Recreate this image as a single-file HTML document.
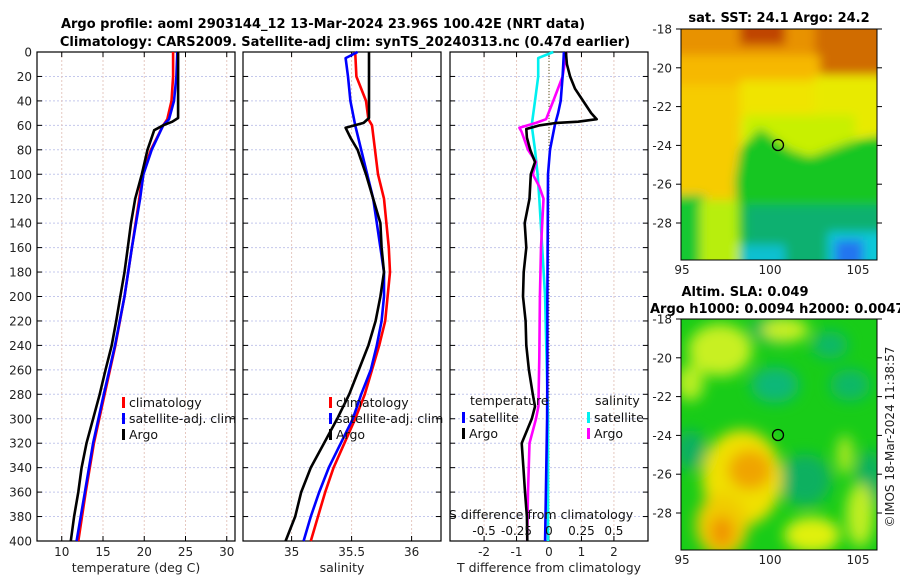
<!DOCTYPE html>
<html><head><meta charset="utf-8">
<style>
html,body{margin:0;padding:0;background:#fff;}
svg{display:block;font-family:"DejaVu Sans","Liberation Sans",sans-serif;}
</style></head>
<body>
<svg id="fig" width="900" height="580" viewBox="0 0 900 580" xmlns="http://www.w3.org/2000/svg">
<defs>
<filter id="bl" filterUnits="userSpaceOnUse" x="600" y="0" width="300" height="300"><feGaussianBlur stdDeviation="5"/></filter>
<filter id="bl2" filterUnits="userSpaceOnUse" x="600" y="290" width="300" height="290"><feGaussianBlur stdDeviation="7"/></filter>
<clipPath id="c1"><rect x="681" y="29" width="196" height="231"/></clipPath>
<clipPath id="c2"><rect x="681" y="319" width="196" height="231"/></clipPath>
</defs>
<text x="323" y="28" text-anchor="middle" font-weight="bold" font-size="13">Argo profile: aoml 2903144_12 13-Mar-2024 23.96S 100.42E (NRT data)</text>
<text x="345" y="46" text-anchor="middle" font-weight="bold" font-size="13">Climatology: CARS2009. Satellite-adj clim: synTS_20240313.nc (0.47d earlier)</text>

<!-- SST map -->
<g>
<text x="779" y="22" text-anchor="middle" font-weight="bold" font-size="13">sat. SST: 24.1 Argo: 24.2</text>
<g clip-path="url(#c1)">
<rect x="681" y="29" width="196" height="231" fill="#e0ee10"/>
<g filter="url(#bl)">
<rect x="660" y="10" width="240" height="50" fill="#e89200"/>
<rect x="740" y="10" width="45" height="35" fill="#c04400"/>
<rect x="815" y="10" width="80" height="65" fill="#d06c00"/>
<rect x="660" y="55" width="160" height="35" fill="#f6b800"/>
<rect x="660" y="85" width="80" height="115" fill="#f6cc00"/>
<rect x="740" y="80" width="80" height="40" fill="#f0e400"/>
<rect x="815" y="75" width="80" height="60" fill="#e8ea00"/>
<rect x="745" y="115" width="110" height="40" fill="#c8f000"/>
<polygon points="740,150 760,128 790,150 810,157 850,142 885,135 885,275 745,275 737,230 735,180" fill="#14c624"/>
<rect x="660" y="195" width="45" height="80" fill="#18c830"/>
<rect x="700" y="200" width="38" height="70" fill="#b8ee10"/>
<rect x="745" y="205" width="140" height="70" fill="#10b070"/>
<rect x="740" y="245" width="45" height="25" fill="#10c0d0"/>
<rect x="828" y="232" width="60" height="35" fill="#10c8d8"/>
<rect x="835" y="240" width="28" height="28" fill="#2074f0"/>
</g>
</g>
<rect x="681" y="29" width="196" height="231" fill="none" stroke="#000" stroke-width="1"/>
<circle cx="778" cy="145" r="5.5" fill="none" stroke="#000" stroke-width="1.3"/>
</g>

<!-- SLA map -->
<g>
<text x="745" y="296" text-anchor="middle" font-weight="bold" font-size="13">Altim. SLA: 0.049</text>
<text x="650" y="313" font-weight="bold" font-size="13">Argo h1000: 0.0094 h2000: 0.0047</text>
<g clip-path="url(#c2)">
<rect x="681" y="319" width="196" height="231" fill="#18cc18"/>
<g filter="url(#bl2)">
<ellipse cx="778" cy="330" rx="28" ry="14" fill="#10b060"/>
<ellipse cx="775" cy="385" rx="24" ry="18" fill="#10b878"/>
<ellipse cx="850" cy="385" rx="20" ry="16" fill="#10b868"/>
<ellipse cx="870" cy="480" rx="14" ry="30" fill="#10b060"/>
<ellipse cx="690" cy="450" rx="16" ry="20" fill="#10b060"/>
<ellipse cx="805" cy="480" rx="26" ry="26" fill="#10b060"/>
<ellipse cx="830" cy="345" rx="18" ry="14" fill="#10b868"/>
<ellipse cx="720" cy="350" rx="32" ry="26" fill="#c8f020"/>
<ellipse cx="785" cy="330" rx="24" ry="12" fill="#c8f020"/>
<ellipse cx="690" cy="383" rx="14" ry="18" fill="#b8ee20"/>
<ellipse cx="742" cy="478" rx="40" ry="48" fill="#f0e000"/>
<ellipse cx="750" cy="470" rx="22" ry="20" fill="#f0a400"/>
<ellipse cx="722" cy="525" rx="26" ry="32" fill="#f0cc00"/>
<ellipse cx="722" cy="532" rx="12" ry="16" fill="#f09400"/>
<ellipse cx="812" cy="535" rx="28" ry="18" fill="#e0f010"/>
<ellipse cx="860" cy="515" rx="14" ry="32" fill="#c0ee20"/>
<ellipse cx="845" cy="455" rx="8" ry="20" fill="#b0e820"/>
</g>
</g>
<rect x="681" y="319" width="196" height="231" fill="none" stroke="#000" stroke-width="1"/>
<circle cx="778" cy="435" r="5.5" fill="none" stroke="#000" stroke-width="1.3"/>
</g>
<text transform="translate(894,437) rotate(-90)" text-anchor="middle" font-size="12" fill="#222">©IMOS 18-Mar-2024 11:38:57</text>
</svg>
<script>
// ---- data ----
const depthTicks = [0,20,40,60,80,100,120,140,160,180,200,220,240,260,280,300,320,340,360,380,400];
const tempTicks = [10,15,20,25,30];
const salTicks = [35,35.5,36];
const diffTicks = [-2,-1,0,1,2];
const sDiffTicks = [-0.5,-0.25,0,0.25,0.5];
const sDiffTickLabels = ['-0.5','-0.25','0','0.25','0.5'];

const tClimDepth = [0,20,40,55,60,80,100,120,160,200,240,280,320,360,400];
const tClim = [23.5,23.5,23.3,22.8,22.3,20.8,19.8,19.4,18.5,17.6,16.5,15.2,13.9,12.9,12.0];
const tSatDepth = [0,20,40,55,60,80,100,120,160,200,240,280,320,360,400];
const tSat = [24.0,23.9,23.6,23.0,22.3,20.9,19.9,19.5,18.5,17.6,16.45,15.1,13.8,12.8,11.8];
const tArgoDepth = [0,20,40,54,57,60,64,70,80,100,120,140,160,180,200,220,240,260,280,300,320,340,360,380,400];
const tArgo = [24.1,24.1,24.1,24.1,23.4,22.3,21.2,20.9,20.4,19.7,18.9,18.4,18.0,17.6,17.1,16.6,16.05,15.3,14.6,13.8,13.0,12.4,12.0,11.5,11.1];

const sClimDepth = [0,20,40,55,60,100,120,140,160,180,200,220,240,260,280,300,320,340,360,380,400];
const sClim = [35.53,35.54,35.62,35.64,35.67,35.72,35.77,35.79,35.81,35.82,35.80,35.78,35.73,35.67,35.61,35.53,35.44,35.35,35.28,35.22,35.16];
const sSatDepth = [0,5,20,40,60,80,100,120,140,160,180,200,220,240,260,280,300,320,340,360,380,400];
const sSat = [35.55,35.45,35.47,35.49,35.53,35.58,35.63,35.68,35.71,35.74,35.77,35.77,35.75,35.71,35.66,35.58,35.51,35.41,35.31,35.23,35.16,35.10];
const sArgoDepth = [0,54,58,62,66,70,80,100,120,140,160,180,200,220,240,260,280,300,320,340,360,380,400];
const sArgo = [35.645,35.645,35.60,35.45,35.47,35.49,35.55,35.62,35.68,35.74,35.75,35.77,35.74,35.70,35.64,35.56,35.48,35.38,35.27,35.16,35.08,35.03,34.95];

const dTSatDepth = [0,20,40,50,60,80,100,150,200,250,300,350,400];
const dTSat = [0.46,0.42,0.36,0.28,0.18,0.03,-0.03,-0.04,-0.05,-0.05,-0.06,-0.09,-0.12];
const dTArgoDepth = [0,10,20,30,40,50,55,57,58,60,63,70,80,90,100,120,140,160,180,200,220,240,260,280,290,300,320,340,360,380,400];
const dTArgo = [0.52,0.55,0.65,0.8,1.05,1.3,1.47,0.9,0.23,-0.28,-0.7,-0.68,-0.58,-0.43,-0.56,-0.6,-0.75,-0.7,-0.78,-0.8,-0.72,-0.7,-0.62,-0.5,-0.43,-0.53,-0.84,-0.79,-0.74,-0.68,-0.67];
const dSSatDepth = [0,5,20,40,60,80,100,120,200,300,400];
const dSSat = [0.033,-0.083,-0.083,-0.108,-0.133,-0.108,-0.088,-0.075,-0.03,-0.008,-0.008];
const dSArgoDepth = [0,20,40,55,58,62,65,80,90,100,110,120,160,200,250,290,300,320,360,400];
const dSArgo = [0.135,0.105,0.033,-0.022,-0.1,-0.228,-0.212,-0.162,-0.1,-0.125,-0.075,-0.042,-0.062,-0.07,-0.075,-0.082,-0.1,-0.15,-0.162,-0.168];

// ---- layout ----
const svg = document.getElementById('fig');
const NS = 'http://www.w3.org/2000/svg';
const Y0 = 52, Y1 = 541;
const yScale = d => Y0 + (d / 400) * (Y1 - Y0);
const panels = [
  {name:'temperature', x0:37, x1:235, min:7, max:31, ticks:tempTicks, title:'temperature (deg C)'},
  {name:'salinity', x0:243, x1:441, min:34.595, max:36.245, ticks:salTicks, title:'salinity'},
  {name:'difference', x0:450, x1:648, min:-3.05, max:3.05, ticks:diffTicks, title:'T difference from climatology'}
];
const xs = (p, v) => p.x0 + (v - p.min) / (p.max - p.min) * (p.x1 - p.x0);

function mk(tag, attrs, parent) {
  const e = document.createElementNS(NS, tag);
  for (const k in attrs) e.setAttribute(k, attrs[k]);
  (parent || svg).appendChild(e);
  return e;
}

panels.forEach((p, pi) => {
  const g = mk('g', {});
  
  
  depthTicks.forEach(d => {
    const y = yScale(d);
    const l = mk('line', {x1:p.x0, x2:p.x1, y1:y, y2:y, stroke:'#c4c8ec', 'stroke-width':1, 'stroke-dasharray':'2,2'}, g);
    
    
    mk('line', {x1:p.x0, x2:p.x0+5, y1:y, y2:y, stroke:'#000'}, g);
    mk('line', {x1:p.x1-5, x2:p.x1, y1:y, y2:y, stroke:'#000'}, g);
    if (pi === 0) {
      const t = mk('text', {x:p.x0-5, y:y+4.5, 'text-anchor':'end', 'font-size':12, fill:'#222'}, g);
      t.textContent = d;
      
      
    }
  });
  p.ticks.forEach(v => {
    const x = xs(p, v);
    const l = mk('line', {x1:x, x2:x, y1:Y0, y2:Y1, stroke:'#e6c8c0', 'stroke-width':1, 'stroke-dasharray':'2,2'}, g);
    
    
    mk('line', {x1:x, x2:x, y1:Y1-5, y2:Y1, stroke:'#000'}, g);
    mk('line', {x1:x, x2:x, y1:Y0, y2:Y0+5, stroke:'#000'}, g);
    const t = mk('text', {x:x, y:556, 'text-anchor':'middle', 'font-size':12, fill:'#222'}, g);
    t.textContent = v;
    
    
  });
  const tt = mk('text', {x:(p.x0+p.x1)/2, y:572, 'text-anchor':'middle', 'font-size':12.5, fill:'#222'}, g);
  tt.textContent = p.title;
  
  
  mk('rect', {x:p.x0, y:Y0, width:p.x1-p.x0, height:Y1-Y0, fill:'none', stroke:'#000', 'stroke-width':1.2}, g);
});

const zl = mk('line', {x1:xs(panels[2],0), x2:xs(panels[2],0), y1:Y0, y2:Y1, stroke:'#555522', 'stroke-width':1, 'stroke-dasharray':'1,2'});



function series(p, vals, depths, color, name, mult) {
  const m = mult || 1;
  const pts = vals.map((v, i) => xs(p, v * m).toFixed(1) + ',' + yScale(depths[i]).toFixed(1)).join(' ');
  const pl = mk('polyline', {points:pts, fill:'none', stroke:color, 'stroke-width':2.6, 'stroke-linejoin':'round'});
  
  
}
series(panels[0], tClim, tClimDepth, '#ff0000', 'temp-climatology-line');
series(panels[0], tSat, tSatDepth, '#0000ff', 'temp-satellite-adj-line');
series(panels[0], tArgo, tArgoDepth, '#000000', 'temp-argo-line');
series(panels[1], sClim, sClimDepth, '#ff0000', 'sal-climatology-line');
series(panels[1], sSat, sSatDepth, '#0000ff', 'sal-satellite-adj-line');
series(panels[1], sArgo, sArgoDepth, '#000000', 'sal-argo-line');
series(panels[2], dSSat, dSSatDepth, '#00f0f0', 'sal-diff-satellite-line', 4);
series(panels[2], dSArgo, dSArgoDepth, '#ff00ff', 'sal-diff-argo-line', 4);
series(panels[2], dTSat, dTSatDepth, '#0000ff', 'temp-diff-satellite-line');
series(panels[2], dTArgo, dTArgoDepth, '#000000', 'temp-diff-argo-line');

function legItem(x, y, color, label, name) {
  const r = mk('rect', {x:x, y:y-10, width:3, height:11, fill:color});
  
  
  const t = mk('text', {x:x+7, y:y, 'font-size':12.5, fill:'#111'});
  t.textContent = label;
  
  
}
legItem(122, 407, '#ff0000', 'climatology', 'legend-climatology');
legItem(122, 423, '#0000ff', 'satellite-adj. clim', 'legend-satellite-adj');
legItem(122, 439, '#000000', 'Argo', 'legend-argo');
legItem(329, 407, '#ff0000', 'climatology', 'legend-climatology-2');
legItem(329, 423, '#0000ff', 'satellite-adj. clim', 'legend-satellite-adj-2');
legItem(329, 439, '#000000', 'Argo', 'legend-argo-2');
const lt = mk('text', {x:470, y:405, 'font-size':12.5, fill:'#111'});
lt.textContent = 'temperature';


const ls = mk('text', {x:595, y:405, 'font-size':12.5, fill:'#111'});
ls.textContent = 'salinity';


legItem(462, 422, '#0000ff', 'satellite', 'legend-temp-satellite');
legItem(462, 438, '#000000', 'Argo', 'legend-temp-argo');
legItem(587, 422, '#00f0f0', 'satellite', 'legend-sal-satellite');
legItem(587, 438, '#ff00ff', 'Argo', 'legend-sal-argo');

const sdt = mk('text', {x:541, y:519, 'text-anchor':'middle', 'font-size':12.5, fill:'#111'});
sdt.textContent = 'S difference from climatology';


sDiffTicks.forEach((v, i) => {
  const t = mk('text', {x:xs(panels[2], v*4), y:535, 'text-anchor':'middle', 'font-size':12, fill:'#111'});
  t.textContent = sDiffTickLabels[i];
  
  
});

const latTicks = [-18,-20,-22,-24,-26,-28];
const lonTicks = [95,100,105];
[[29,'sst'],[319,'sla']].forEach(([top, nm]) => {
  latTicks.forEach(la => {
    const y = top + (-18 - la) * 19.4;
    const t = mk('text', {x:672, y:y+4.5, 'text-anchor':'end', 'font-size':12, fill:'#222'});
    t.textContent = la;
    
    
    mk('line', {x1:877, x2:882, y1:y, y2:y, stroke:'#000'});
    mk('line', {x1:676, x2:681, y1:y, y2:y, stroke:'#000'});
  });
  lonTicks.forEach(lo => {
    const x = 682 + (lo - 95) * 17.6;
    const t = mk('text', {x:x, y:top+245, 'text-anchor':'middle', 'font-size':12, fill:'#222'});
    t.textContent = lo;
    
    
  });
});
</script>
</body></html>
